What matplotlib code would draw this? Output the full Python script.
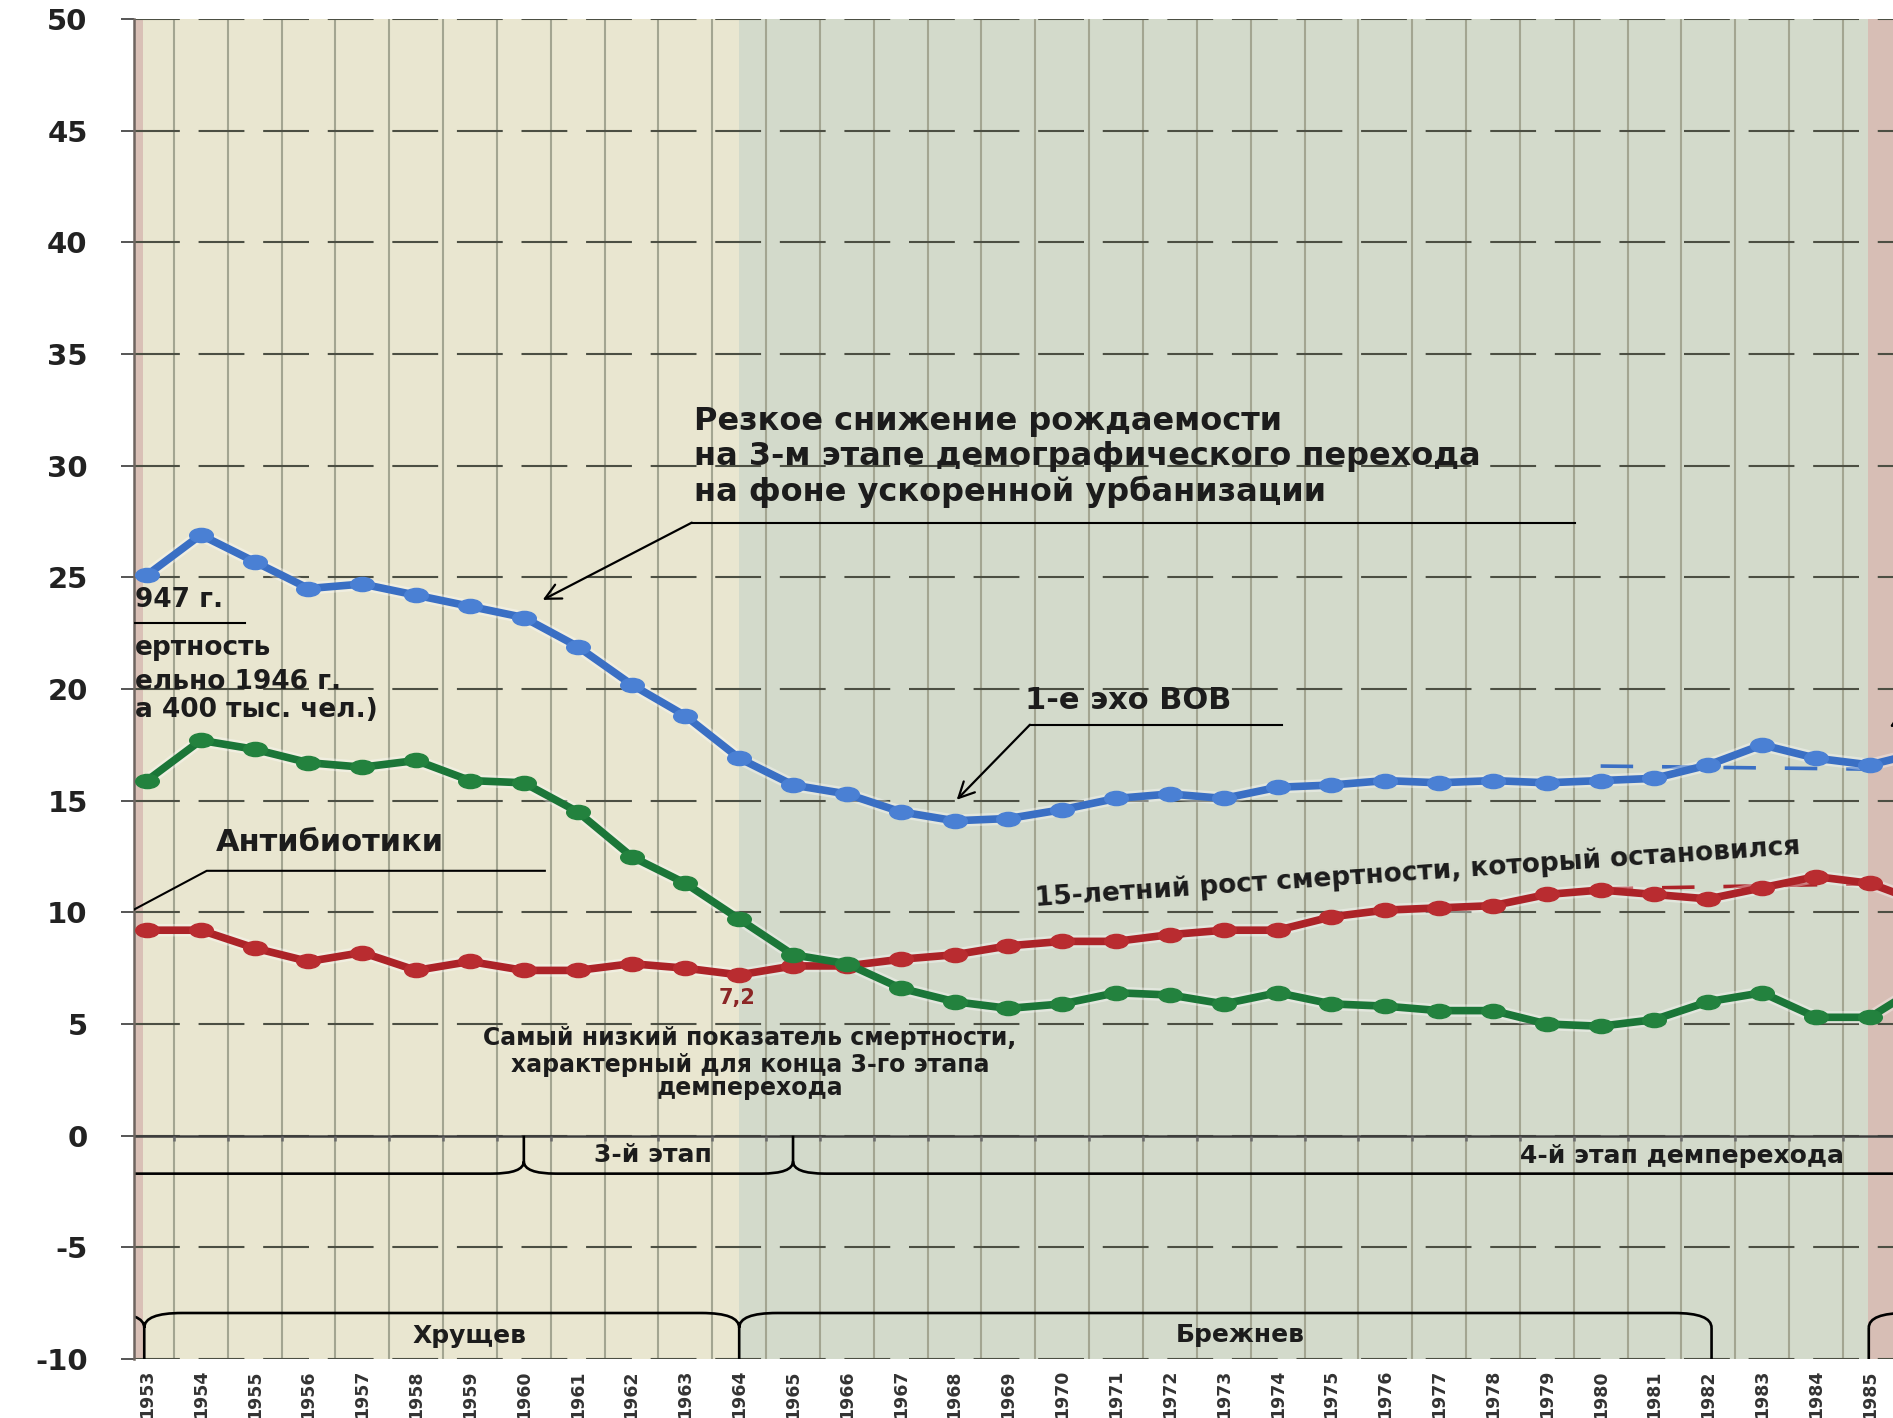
import numpy as np
import matplotlib
matplotlib.use('Agg')
import matplotlib.pyplot as plt
from matplotlib.path import Path
from matplotlib.patches import PathPatch
from matplotlib.transforms import Affine2D

plt.rcParams['axes.unicode_minus'] = False
plt.rcParams['font.weight'] = 'bold'

# RSFSR, per 1000 population
years = list(range(1953, 1987))
birth_rate = [25.1, 26.9, 25.7, 24.5, 24.7, 24.2, 23.7, 23.2, 21.9, 20.2,
              18.8, 16.9, 15.7, 15.3, 14.5, 14.1, 14.2, 14.6, 15.1, 15.3,
              15.1, 15.6, 15.7, 15.9, 15.8, 15.9, 15.8, 15.9, 16.0, 16.6,
              17.5, 16.9, 16.6, 17.2]
death_rate = [9.2, 9.2, 8.4, 7.8, 8.2, 7.4, 7.8, 7.4, 7.4, 7.7,
              7.5, 7.2, 7.6, 7.6, 7.9, 8.1, 8.5, 8.7, 8.7, 9.0,
              9.2, 9.2, 9.8, 10.1, 10.2, 10.3, 10.8, 11.0, 10.8, 10.6,
              11.1, 11.6, 11.3, 10.4]
natural_increase = [15.9, 17.7, 17.3, 16.7, 16.5, 16.8, 15.9, 15.8, 14.5, 12.5,
                    11.3, 9.7, 8.1, 7.7, 6.6, 6.0, 5.7, 5.9, 6.4, 6.3,
                    5.9, 6.4, 5.9, 5.8, 5.6, 5.6, 5.0, 4.9, 5.2, 6.0,
                    6.4, 5.3, 5.3, 6.8]
tick_years = list(range(1953, 1986))
y_ticks = list(range(-10, 51, 5))

# dashed projections at the right edge
trend_x = [1980, 1985.43]
birth_trend = [16.55, 16.4]
death_trend = [11.05, 11.3]

# background periods (leaders)
periods = [(1952.5, 1952.93, '#d9c0b6'),
           (1964.0, 1984.97, '#d3dacb'),
           (1984.97, 1986.0, '#d7beb5')]

stage_breaks = [1960, 1965]
leader_breaks = [1952.95, 1964]

fig = plt.figure(figsize=(18.93, 14.18), dpi=100)
ax = fig.add_axes([0.0708, 0.0416, 0.9292, 0.945])
ax.set_facecolor('#e9e6d0')
ax.set_xlim(1952.76, 1985.43)
ax.set_ylim(-10, 50)

for x0, x1, c in periods:
    ax.axvspan(x0, x1, color=c, lw=0, zorder=0.2)

ax.set_yticks(y_ticks)
ax.set_xticks(tick_years)
ax.set_xticks(np.arange(1953.5, 1985, 1), minor=True)
ax.set_axisbelow(True)
ax.grid(axis='y', which='major', color='#4c4f43', lw=1.5, linestyle=(0, (22, 9)))
ax.grid(axis='x', which='minor', color='#a3a591', lw=1.5)

# category axis crossing at zero
ax.axhline(0, color='#3d3d3d', lw=1.8, zorder=1.5)
ax.vlines(np.arange(1953.5, 1985, 1), -0.25, 0, color='#6a6a6a', lw=1.8, zorder=1.5)

for s in ['top', 'right', 'bottom']:
    ax.spines[s].set_visible(False)
ax.spines['left'].set_color('#6e6560')
ax.spines['left'].set_linewidth(1.8)

ax.tick_params(axis='y', direction='out', length=9.4, width=1.4, color='#555555',
               labelsize=21, pad=24, labelcolor='#222222')
ax.tick_params(axis='x', which='both', length=0, pad=8, labelsize=12.5,
               labelrotation=90, labelcolor='#333333')

# series: stretched circles like in the source picture
ell = Path.unit_circle().transformed(Affine2D().scale(1.0, 0.6))
series = [(birth_rate, '#3a6fc4', '#4a80d4'),
          (death_rate, '#ac2328', '#b92c30'),
          (natural_increase, '#1b7638', '#23823e')]
for vals, c, mc in series:
    ax.plot(years, vals, color='white', alpha=0.35, lw=9, zorder=2.9)
    ax.plot(years, vals, color=c, lw=5.5, marker=ell, ms=17, mfc=mc, mec=mc, zorder=3)

ax.plot(trend_x, birth_trend, color='#3a6fc4', lw=2.6, linestyle=(0, (9, 8)), zorder=2.5)
ax.plot(trend_x, death_trend, color='#ac2328', lw=2.6, linestyle=(0, (9, 8)), zorder=2.5)


def junction(verts, codes, x, y_line, y_end, rx, ry, left=True, right=True):
    # brace knot: stem from y_end to the curve, rounded into the horizontal line
    sgn = 1 if y_end > y_line else -1
    if left:
        verts += [(x - rx, y_line), (x, y_line), (x, y_line + sgn * ry)]
        codes += [Path.MOVETO, Path.CURVE3, Path.CURVE3]
    verts += [(x, y_line + sgn * ry), (x, y_end)]
    codes += [Path.MOVETO, Path.LINETO]
    if right:
        verts += [(x, y_line + sgn * ry), (x, y_line), (x + rx, y_line)]
        codes += [Path.MOVETO, Path.CURVE3, Path.CURVE3]


def hline(verts, codes, x0, x1, y):
    verts += [(x0, y), (x1, y)]
    codes += [Path.MOVETO, Path.LINETO]


# stage brace below zero
v, c = [], []
rx, ry, yb = 0.6, 0.55, -1.7
hline(v, c, 1952.0, stage_breaks[0] - rx, yb)
junction(v, c, stage_breaks[0], yb, 0, rx, ry)
hline(v, c, stage_breaks[0] + rx, stage_breaks[1] - rx, yb)
junction(v, c, stage_breaks[1], yb, 0, rx, ry)
hline(v, c, stage_breaks[1] + rx, 1986.5, yb)
ax.add_patch(PathPatch(Path(v, c), fill=False, lw=1.9, ec='black', zorder=2))

# leaders bracket at the bottom
v, c = [], []
rx, ry, yb = 0.7, 0.66, -7.94
hline(v, c, 1951.0, leader_breaks[0] - rx, yb)
junction(v, c, leader_breaks[0], yb, -10, rx, ry)
hline(v, c, leader_breaks[0] + rx, leader_breaks[1] - rx, yb)
junction(v, c, leader_breaks[1], yb, -10, rx, ry)
hline(v, c, leader_breaks[1] + rx, 1982.06 - rx, yb)
junction(v, c, 1982.06, yb, -10, rx, ry, right=False)
junction(v, c, 1984.98, yb, -10, rx, ry, left=False)
hline(v, c, 1984.98 + rx, 1986.5, yb)
ax.add_patch(PathPatch(Path(v, c), fill=False, lw=1.9, ec='black', zorder=2))

txt = '#1c1c1c'
ax.text(1962.4, -0.85, '3-й этап', fontsize=18, color=txt, ha='center', va='center')
ax.text(1978.5, -0.9, '4-й этап демперехода', fontsize=18, color=txt, ha='left', va='center')
ax.text(1959.0, -8.98, 'Хрущев', fontsize=18, color=txt, ha='center', va='center')
ax.text(1973.3, -8.93, 'Брежнев', fontsize=18, color=txt, ha='center', va='center')

# birth rate drop
for yy, s in zip([32.0, 30.39, 28.83],
                 ['Резкое снижение рождаемости',
                  'на 3-м этапе демографического перехода',
                  'на фоне ускоренной урбанизации']):
    ax.text(1963.16, yy, s, fontsize=23, color=txt, ha='left', va='center')
ax.plot([1963.12, 1979.53], [27.45, 27.45], color='black', lw=1.5, zorder=4)
arrow = dict(arrowstyle='->', lw=1.6, color='black', shrinkA=0, shrinkB=0, mutation_scale=28)
ax.annotate('', xy=(1960.35, 23.99), xytext=(1963.12, 27.45), arrowprops=arrow, zorder=4)

# echo of the war
ax.text(1969.3, 19.47, '1-е эхо ВОВ', fontsize=22, color=txt, ha='left', va='center')
ax.plot([1969.4, 1974.08], [18.4, 18.4], color='black', lw=1.5, zorder=4)
ax.annotate('', xy=(1968.04, 15.04), xytext=(1969.4, 18.4), arrowprops=arrow, zorder=4)

# antibiotics
ax.text(1954.28, 13.12, 'Антибиотики', fontsize=22, color=txt, ha='left', va='center')
ax.plot([1952.5, 1954.11, 1960.39], [9.79, 11.86, 11.86], color='black', lw=1.5, zorder=4)

# text box cut by the left edge of the picture
left_lines = [(23.99, '947 г.'), (21.84, 'ертность'),
              (20.32, 'ельно 1946 г.'), (19.07, 'а 400 тыс. чел.)')]
for yy, s in left_lines:
    ax.text(1952.78, yy, s, fontsize=19, color=txt, ha='left', va='center')
ax.plot([1952.5, 1954.82], [22.96, 22.96], color='black', lw=1.5, zorder=4)

# lowest death rate
for yy, s in zip([4.39, 3.18, 2.15],
                 ['Самый низкий показатель смертности,',
                  'характерный для конца 3-го этапа',
                  'демперехода']):
    ax.text(1964.2, yy, s, fontsize=17, color=txt, ha='center', va='center')
ax.text(1963.96, 6.18, '7,2', fontsize=15, color='#8b2525', ha='center', va='center')

ax.text(1969.5, 10.3, '15-летний рост смертности, который остановился',
        fontsize=19, color=txt, ha='left', va='baseline', rotation=3.9,
        rotation_mode='anchor')

ax.annotate('', xy=(1985.37, 18.3), xytext=(1986.4, 19.8), arrowprops=arrow,
            annotation_clip=False)

fig.savefig('out.png', dpi=100)
